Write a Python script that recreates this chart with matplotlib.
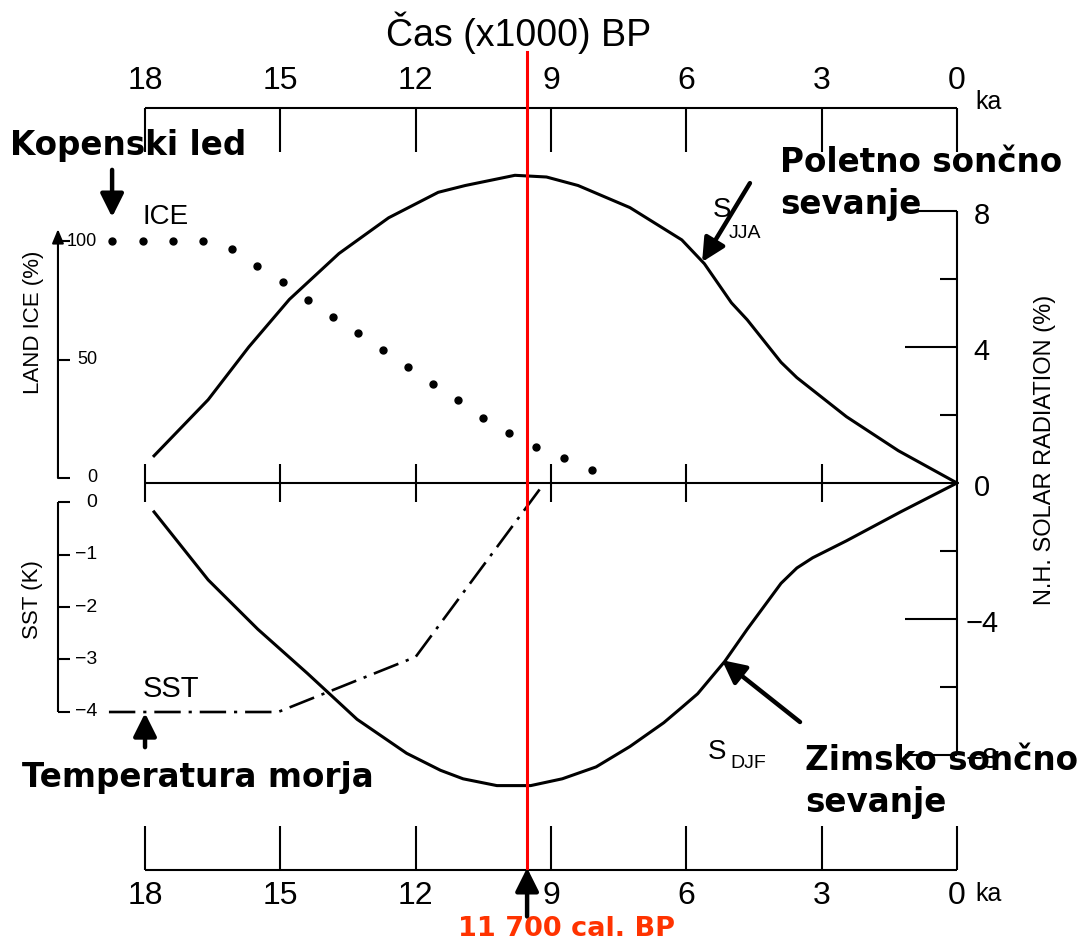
import matplotlib
matplotlib.use("Agg")
import matplotlib.pyplot as plt

# N.H. solar radiation anomaly (%), summer JJA and winter DJF, vs ka BP
jja_ka = [17.8, 16.6, 15.7, 14.8, 13.7, 12.6, 11.5, 10.9, 9.8, 9.1, 8.4, 7.25,
          6.1, 5.6, 5.0, 4.65, 3.9, 3.55, 2.45, 1.3, 0.0]
jja_pct = [0.8, 2.45, 4.0, 5.4, 6.75, 7.8, 8.55, 8.75, 9.05, 9.0, 8.75, 8.1,
           7.15, 6.45, 5.3, 4.8, 3.55, 3.1, 1.95, 0.95, 0.0]

djf_ka = [17.8, 16.6, 15.5, 14.4, 13.3, 12.2, 11.45, 10.95, 10.2, 9.45, 8.75,
          8.0, 7.25, 6.5, 6.1, 5.75, 5.15, 4.65, 3.9, 3.55, 3.2, 2.45, 1.25, 0.0]
djf_pct = [-0.85, -2.85, -4.3, -5.6, -6.95, -7.95, -8.45, -8.7, -8.9, -8.9, -8.7,
           -8.35, -7.75, -7.05, -6.6, -6.2, -5.25, -4.3, -2.95, -2.5, -2.2, -1.7,
           -0.85, 0.0]

# land ice (% of LGM), one value per dot
ice_ka = [18.73, 18.05, 17.38, 16.71, 16.07, 15.52, 14.94, 14.39, 13.84, 13.28,
          12.72, 12.17, 11.62, 11.06, 10.51, 9.93, 9.33, 8.71, 8.09]
ice_pct = [100, 100, 100, 100, 96.5, 89.5, 82.5, 75, 68, 61,
           54, 47, 39.5, 33, 25.5, 19, 13, 8.5, 3.5]

# sea surface temperature anomaly (K)
sst_ka = [18.8, 15.05, 12.0, 9.2]
sst_k = [-4.0, -4.0, -2.95, 0.3]

time_ticks = [18, 15, 12, 9, 6, 3, 0]
rad_major = [8, 4, -4, -8]
rad_minor = [6, 2, -2, -6]
rad_labels = [8, 4, 0, -4, -8]
ice_ticks = [100, 50, 0]
sst_ticks = [0, -1, -2, -3, -4]
marker_ka = 9.53   # 11 700 cal. BP

NARROW = ['Liberation Sans Narrow', 'Liberation Sans', 'DejaVu Sans']
BOLD = ['DejaVu Sans']

fig = plt.figure(figsize=(10.85, 9.42), dpi=100, facecolor='white')
ax = fig.add_axes([0, 0, 1, 1])
ax.set_xlim(21.215, -2.838)
ax.set_ylim(-13.5, 14.206)
ax.axis('off')

ax_ice = ax.twinx()
ax_ice.set_ylim(-195.8, 201.7)
ax_ice.axis('off')
ax_sst = ax.twinx()
ax_sst.set_ylim(-8.381, 9.562)
ax_sst.axis('off')

ax.set_zorder(3)
ax.patch.set_visible(False)

k = dict(color='black', lw=1.5, solid_capstyle='butt')

# top and bottom time scales
top_y, bot_y = 11.03, -11.38
ax.plot([18, 0], [top_y, top_y], **k)
ax.plot([18, 0], [bot_y, bot_y], **k)
for t in time_ticks:
    ax.plot([t, t], [top_y, top_y - 1.3], **k)
    ax.plot([t, t], [bot_y, bot_y + 1.3], **k)
    ax.text(t, 11.82, str(t), ha='center', va='center', fontsize=23, family=NARROW)
    ax.text(t, -12.15, str(t), ha='center', va='center', fontsize=23, family=NARROW)
ax.text(-0.4, 11.2, 'ka', ha='left', va='center', fontsize=18, family=NARROW)
ax.text(-0.4, -12.1, 'ka', ha='left', va='center', fontsize=18, family=NARROW)
ax.text(9.71, 12.85, 'Čas (x1000) BP', ha='center', va='baseline', fontsize=27, family=NARROW)

# zero line with ticks
ax.plot([18, 0], [0, 0], **k)
for t in time_ticks[:-1]:
    ax.plot([t, t], [0.55, -0.55], **k)

# right radiation axis
ax.plot([0, 0], [-8, 8], **k)
for v in rad_major:
    ax.plot([0, 1.15], [v, v], **k)
for v in rad_minor:
    ax.plot([0, 0.37], [v, v], **k)
for v in rad_labels:
    ax.text(-0.55, v - 0.15, str(v).replace('-', '\u2212'), ha='center', va='center',
            fontsize=21, family=NARROW)
ax.text(-1.95, 0.97, 'N.H. SOLAR RADIATION (%)', rotation=90, ha='center', va='center',
        fontsize=17, family=NARROW)

# left land-ice axis
ax_ice.annotate('', xy=(19.93, 105), xytext=(19.93, 0),
                arrowprops=dict(arrowstyle='-|>,head_length=0.6,head_width=0.25',
                                lw=1.5, color='black', shrinkA=0, shrinkB=0,
                                mutation_scale=14))
for v in ice_ticks:
    ax_ice.plot([19.93, 19.66], [v, v], **k)
    ax_ice.text(19.06, v, str(v), ha='right', va='center', fontsize=13, family=NARROW)
ax_ice.text(20.48, 65.8, 'LAND ICE (%)', rotation=90, ha='center', va='center',
            fontsize=16, family=NARROW)
ax_ice.text(18.05, 110, 'ICE', ha='left', va='center', fontsize=20, family=NARROW)

# left SST axis
ax_sst.plot([19.93, 19.93], [0, -4], **k)
for v in sst_ticks:
    ax_sst.plot([19.93, 19.66], [v, v], **k)
    ax_sst.text(19.06, v, str(v).replace('-', '\u2212'), ha='right', va='center',
                fontsize=14, family=NARROW)
ax_sst.text(20.5, -1.85, 'SST (K)', rotation=90, ha='center', va='center',
            fontsize=16, family=NARROW)
ax_sst.text(18.05, -3.56, 'SST', ha='left', va='center', fontsize=21, family=NARROW)

# series
ax.plot(jja_ka, jja_pct, color='black', lw=2.2, solid_joinstyle='round')
ax.plot(djf_ka, djf_pct, color='black', lw=2.2, solid_joinstyle='round')
ax_ice.plot(ice_ka, ice_pct, linestyle='none', marker='o', ms=5, color='black')
ax_sst.plot(sst_ka, sst_k, color='black', lw=1.9, linestyle=(0, (10, 3, 1.2, 3)))

ax.text(5.41, 8.03, 'S', ha='left', va='center', fontsize=20, family=NARROW)
ax.text(5.05, 7.35, 'JJA', ha='left', va='center', fontsize=14, family=NARROW)
ax.text(5.52, -7.91, 'S', ha='left', va='center', fontsize=20, family=NARROW)
ax.text(5.03, -8.26, 'DJF', ha='left', va='center', fontsize=14, family=NARROW)

# 11 700 cal. BP marker
ax.plot([marker_ka, marker_ka], [12.68, bot_y + 0.06], color='#ff0000', lw=2.2)

arrow = dict(arrowstyle='-|>,head_length=0.7,head_width=0.35', lw=3.2,
             color='black', shrinkA=0, shrinkB=0, mutation_scale=20)
ax.annotate('', xy=(marker_ka, bot_y + 0.06), xytext=(marker_ka, -12.75), arrowprops=arrow)
ax.annotate('', xy=(18.73, 7.82), xytext=(18.73, 9.21), arrowprops=arrow)
ax.annotate('', xy=(5.65, 6.5), xytext=(4.59, 8.82), arrowprops=arrow)
ax.annotate('', xy=(5.21, -5.21), xytext=(3.48, -7.03), arrowprops=arrow)
ax_sst.annotate('', xy=(18.0, -4.02), xytext=(18.0, -4.67), arrowprops=arrow)

bold = dict(fontsize=23.5, fontweight='bold', family=BOLD, ha='left', va='baseline')
ax.text(21.0, 9.65, 'Kopenski led', **bold)
ax.text(3.92, 9.15, 'Poletno sončno', **bold)
ax.text(3.92, 7.91, 'sevanje', **bold)
ax.text(3.37, -8.44, 'Zimsko sončno', **bold)
ax.text(3.37, -9.68, 'sevanje', **bold)
ax.text(20.73, -8.94, 'Temperatura morja', **bold)
ax.text(8.65, -13.32, '11 700 cal. BP', ha='center', va='baseline', fontsize=19.5,
        fontweight='bold', family=BOLD, color='#ff3300')

fig.savefig('out.png', dpi=100, facecolor='white')
